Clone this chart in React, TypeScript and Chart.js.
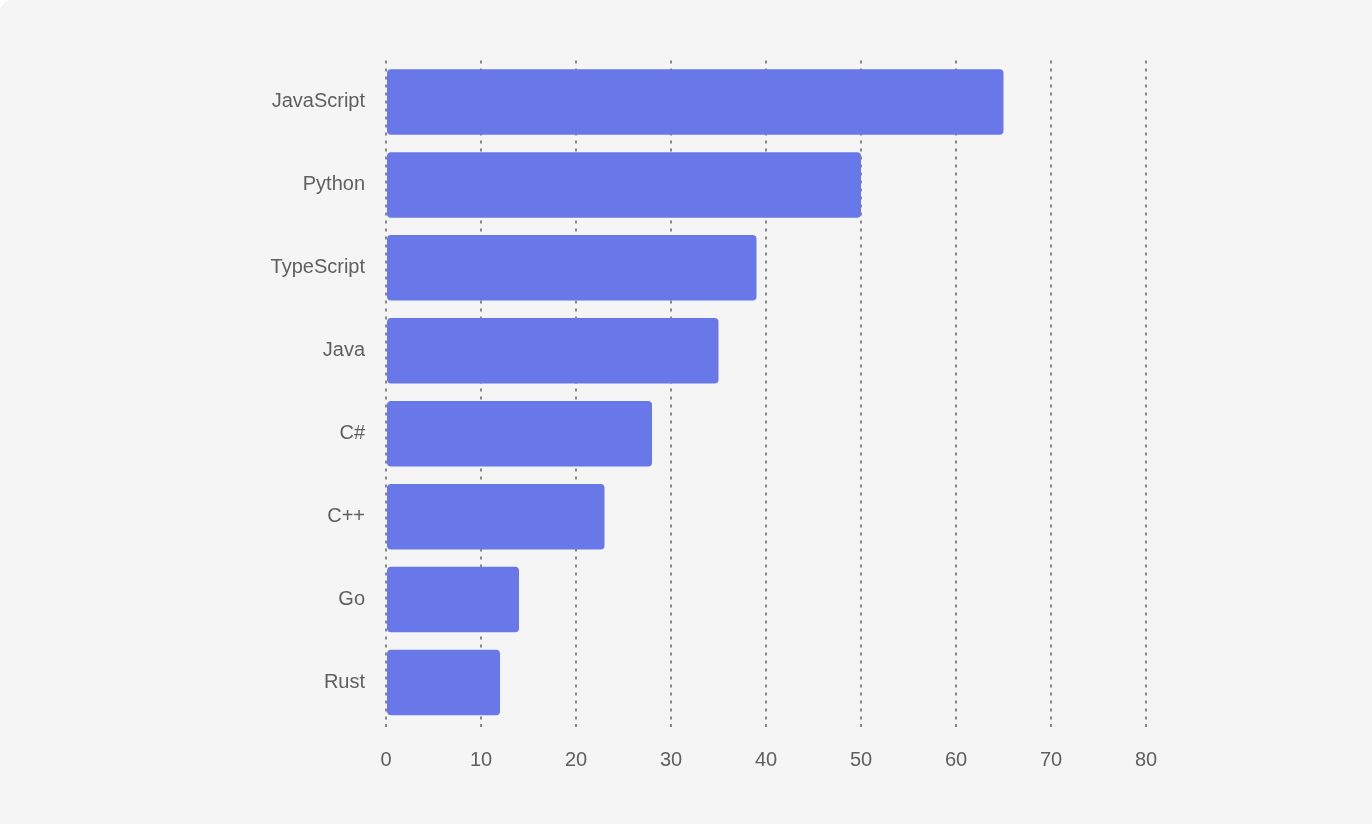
import React, { useEffect, useRef } from "react";
import { Chart, registerables } from "chart.js";

Chart.register(...registerables);

const categories = ["JavaScript", "Python", "TypeScript", "Java", "C#", "C++", "Go", "Rust"];
const values = [65, 50, 39, 35, 28, 23, 14, 12];
const xMin = 0;
const xMax = 80;
const xStep = 10;

export default function App() {
  const ref = useRef<HTMLCanvasElement | null>(null);

  useEffect(() => {
    document.body.style.margin = "0";
    const ctx = ref.current!;
    const chart = new Chart(ctx, {
      type: "bar",
      data: {
        labels: categories,
        datasets: [
          {
            data: values,
            backgroundColor: "#6878e8",
            borderRadius: 4,
            borderSkipped: false,
            barPercentage: 0.79,
            categoryPercentage: 1,
          },
        ],
      },
      options: {
        indexAxis: "y",
        animation: false,
        responsive: false,
        maintainAspectRatio: false,
        layout: { padding: { left: 0, right: 226, top: 60.5, bottom: 40 } },
        plugins: {
          legend: { display: false },
          tooltip: { enabled: false },
        },
        scales: {
          x: {
            type: "linear",
            min: xMin,
            max: xMax,
            ticks: {
              stepSize: xStep,
              color: "#5f5f5f",
              padding: 16,
              font: { family: "'Liberation Sans', Arial, sans-serif", size: 20 },
            },
            grid: {
              color: "#888",
              lineWidth: 2,
              drawTicks: true,
              tickLength: 8,
              tickColor: "#888",
              tickWidth: 2,
              tickBorderDash: [3, 5],
            },
            border: { display: false, dash: [3, 5] },
            afterFit: (s: any) => {
              s.height = 60;
            },
          },
          y: {
            ticks: {
              color: "#5f5f5f",
              padding: 13,
              font: { family: "'Liberation Sans', Arial, sans-serif", size: 20 },
            },
            grid: { display: false },
            border: { display: false },
            afterFit: (s: any) => {
              s.width = 386;
            },
          },
        },
      },
    });
    return () => chart.destroy();
  }, []);

  return (
    <div
      style={{
        position: "fixed",
        left: 0,
        top: 0,
        width: 1420,
        height: 870,
        background: "#f5f5f5",
        borderRadius: 12,
        overflow: "hidden",
      }}
    >
      <canvas ref={ref} width={1372} height={824} style={{ display: "block" }} />
    </div>
  );
}
